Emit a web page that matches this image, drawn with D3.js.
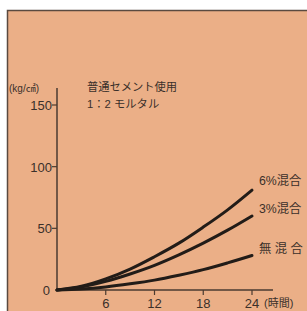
<!DOCTYPE html>
<html lang="ja">
<head>
<meta charset="UTF-8">
<title>混合強度</title>
<script src="https://cdn.jsdelivr.net/npm/d3@7"></script>
<style>
  body { margin: 0; background: #fff; }
  text { font-family: "Liberation Sans", "Noto Sans CJK JP", sans-serif; fill: #3a302a; }
</style>
</head>
<body>
<script>
  // data
  const hours = [0, 3, 6, 9, 12, 15, 18, 21, 24]
  const mix6 = [0, 3, 9, 17, 27, 38, 51, 65, 81]
  const mix3 = [0, 2.5, 7, 13, 20, 28.5, 38, 48.5, 60]
  const mix0 = [0, 0.8, 2.5, 5, 8, 12, 16.5, 22, 28]
  const seriesNames = ['6%混合', '3%混合', '無 混 合']
  const xTicks = [6, 12, 18, 24]
  const yTicks = [0, 50, 100, 150]

  const W = 307, H = 311
  const svg = d3.select('body').append('svg')
    .attr('width', W).attr('height', H)

  // background panel
  svg.append('rect')
    .attr('x', 7.5).attr('y', 10.5)
    .attr('width', W).attr('height', H)
    .attr('fill', '#ebaf87')
    .attr('stroke', '#5a4a40').attr('stroke-width', 1.5)

  const x = d3.scaleLinear().domain([0, 24]).range([57, 252])
  const y = d3.scaleLinear().domain([0, 150]).range([290, 105])
  const axisColor = '#4a3a30'

  // axes lines
  svg.append('line')
    .attr('x1', x(0)).attr('x2', 273)
    .attr('y1', y(0)).attr('y2', y(0))
    .attr('stroke', axisColor).attr('stroke-width', 1.5)
  svg.append('line')
    .attr('x1', x(0)).attr('x2', x(0))
    .attr('y1', y(0)).attr('y2', 88)
    .attr('stroke', axisColor).attr('stroke-width', 1.5)

  // x ticks
  const xg = svg.append('g')
  xTicks.forEach(t => {
    xg.append('line')
      .attr('x1', x(t)).attr('x2', x(t))
      .attr('y1', y(0)).attr('y2', y(0) + 5)
      .attr('stroke', axisColor).attr('stroke-width', 1.2)
    xg.append('text')
      .attr('x', x(t)).attr('y', 308)
      .attr('text-anchor', 'middle')
      .attr('font-size', 13)
      .text(t)
  })
  svg.append('text')
    .attr('x', 264).attr('y', 307)
    .attr('font-size', 11)
    .text('(時間)')

  // y ticks
  const yg = svg.append('g')
  yTicks.forEach(t => {
    if (t > 0) {
      yg.append('line')
        .attr('x1', x(0) - 5).attr('x2', x(0))
        .attr('y1', y(t)).attr('y2', y(t))
        .attr('stroke', axisColor).attr('stroke-width', 1.2)
    }
    yg.append('text')
      .attr('x', t > 0 ? x(0) - 5 : x(0) - 7).attr('y', y(t) + 5)
      .attr('text-anchor', 'end')
      .attr('font-size', 13)
      .text(t)
  })
  svg.append('text')
    .attr('x', 9).attr('y', 92)
    .attr('font-size', 10)
    .text('(kg/㎠)')

  svg.append('text')
    .attr('x', 87).attr('y', 91)
    .attr('font-size', 11.3)
    .text('普通セメント使用')
  svg.append('text')
    .attr('x', 87).attr('y', 108)
    .attr('font-size', 11.3)
    .text('1：2 モルタル')

  // curves
  const line = d3.line()
    .x((d, i) => x(hours[i]))
    .y(d => y(d))
    .curve(d3.curveCatmullRom)

  ;[mix6, mix3, mix0].forEach(s => {
    svg.append('path')
      .attr('d', line(s))
      .attr('fill', 'none')
      .attr('stroke', '#221c18')
      .attr('stroke-width', 3)
      .attr('stroke-linecap', 'round')
  })

  const labelY = [185, 213, 253]
  seriesNames.forEach((n, i) => {
    svg.append('text')
      .attr('x', 259).attr('y', labelY[i])
      .attr('font-size', 12.3)
      .text(n)
  })
</script>
</body>
</html>
